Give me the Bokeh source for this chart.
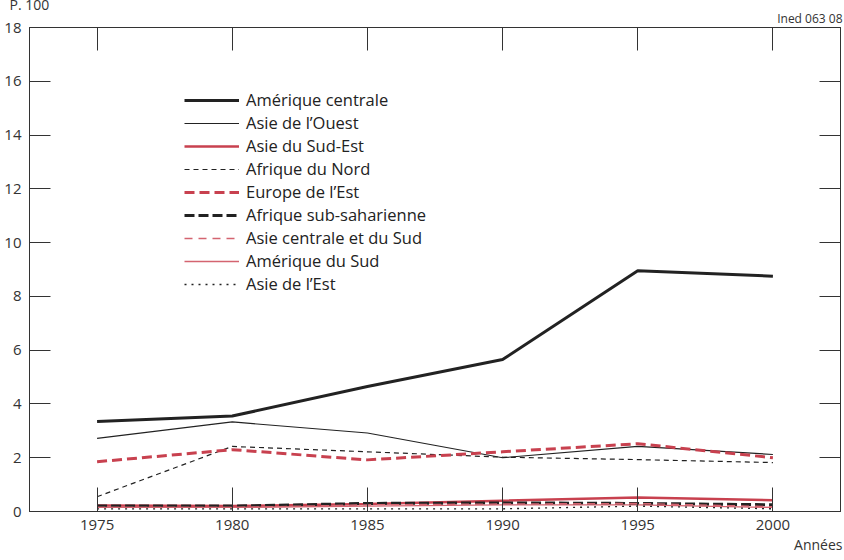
from bokeh.plotting import figure
from bokeh.models import Range1d, LinearAxis, FixedTicker, Title, Legend, LegendItem
from bokeh.embed import file_html
from bokeh.resources import INLINE

years = [1975, 1980, 1985, 1990, 1995, 2000]
amerique_centrale = [3.35, 3.55, 4.65, 5.65, 8.95, 8.75]
asie_ouest = [2.72, 3.33, 2.92, 2.0, 2.42, 2.12]
asie_sud_est = [0.22, 0.2, 0.28, 0.4, 0.52, 0.42]
afrique_nord = [0.55, 2.42, 2.22, 2.02, 1.93, 1.82]
europe_est = [1.85, 2.3, 1.92, 2.22, 2.52, 2.0]
afrique_subsah = [0.2, 0.2, 0.3, 0.32, 0.3, 0.25]
asie_centrale_sud = [0.15, 0.15, 0.25, 0.28, 0.3, 0.18]
amerique_sud = [0.15, 0.15, 0.2, 0.25, 0.25, 0.15]
asie_est = [0.1, 0.1, 0.1, 0.1, 0.2, 0.1]

y_ticks = [0, 2, 4, 6, 8, 10, 12, 14, 16, 18]

RED = "#c8414f"
LRED = "#d46470"
FONT = "Open Sans"
GREY = "#333333"

p = figure(width=844, height=560, output_backend="svg", toolbar_location=None,
           x_range=Range1d(1972.5, 2002.5), y_range=Range1d(0, 18),
           min_border_left=29, min_border_right=4, min_border_top=27, min_border_bottom=49)
p.xgrid.visible = False
p.ygrid.visible = False
p.outline_line_color = GREY
p.outline_line_width = 1
p.background_fill_color = "white"

for ax in [p.xaxis[0], p.yaxis[0]]:
    ax.major_tick_out = 0
    ax.minor_tick_line_color = None
    ax.axis_line_color = GREY
    ax.major_tick_line_color = GREY
    ax.major_label_text_font = FONT
    ax.major_label_text_font_size = "15px"
    ax.major_label_text_color = GREY
xa = p.xaxis[0]
xa.ticker = FixedTicker(ticks=years)
xa.major_tick_in = 24
xa.major_label_standoff = 8
p.yaxis[0].ticker = FixedTicker(ticks=y_ticks)
p.yaxis[0].major_tick_in = 21
p.yaxis[0].major_label_standoff = 8

top = LinearAxis(ticker=FixedTicker(ticks=years), major_tick_in=23, major_tick_out=0,
                 minor_tick_line_color=None, major_label_text_font_size="0px",
                 major_label_standoff=0, axis_line_color=GREY,
                 major_tick_line_color=GREY)
p.add_layout(top, "above")
right = LinearAxis(ticker=FixedTicker(ticks=y_ticks), major_tick_in=21, major_tick_out=0,
                   minor_tick_line_color=None, major_label_text_font_size="0px",
                   major_label_standoff=0, axis_line_color=GREY,
                   major_tick_line_color=GREY)
p.add_layout(right, "right")

series = [
    ("Amérique centrale", amerique_centrale, "#222222", 3.0, "solid"),
    ("Asie de l\u2019Ouest", asie_ouest, "#222222", 1.2, "solid"),
    ("Asie du Sud-Est", asie_sud_est, RED, 2.5, "solid"),
    ("Afrique du Nord", afrique_nord, "#222222", 1.2, "5 4"),
    ("Europe de l\u2019Est", europe_est, RED, 3.0, "10 5"),
    ("Afrique sub-saharienne", afrique_subsah, "#222222", 3.0, "10 4"),
    ("Asie centrale et du Sud", asie_centrale_sud, LRED, 1.3, "8 6"),
    ("Amérique du Sud", amerique_sud, LRED, 1.3, "solid"),
    ("Asie de l\u2019Est", asie_est, "#222222", 1.3, "2 5"),
]

items = []
for name, vals, col, w, dash in series:
    r = p.line(years, vals, line_color=col, line_width=w, line_dash=dash)
    items.append(LegendItem(label=name, renderers=[r]))

legend = Legend(items=items, location=(155, 216), padding=0, margin=0, spacing=0,
                glyph_width=55, glyph_height=20, label_height=20, label_standoff=7,
                label_text_font=FONT, label_text_font_size="16.5px", label_text_color="#222222",
                border_line_color=None, background_fill_alpha=0)
p.add_layout(legend, "center")

t_ined = Title(text="Ined 063 08", align="right", offset=-2, standoff=2, padding=0,
               text_font=FONT, text_font_size="12px", text_font_style="normal",
               text_color=GREY, text_line_height=1.0)
p.add_layout(t_ined, "above")
t_p100 = Title(text="P. 100", align="left", offset=-20, standoff=0, padding=0,
               text_font=FONT, text_font_size="14px", text_font_style="normal",
               text_color=GREY, text_line_height=1.0)
try:
    t_p100.standoff = -15
except Exception:
    pass
p.add_layout(t_p100, "above")
t_annees = Title(text="Années", align="right", offset=-2, standoff=0, padding=0,
                 text_font=FONT, text_font_size="14px", text_font_style="normal",
                 text_color=GREY, text_line_height=1.0)
p.add_layout(t_annees, "below")

open("out.html", "w").write(file_html(p, INLINE))
